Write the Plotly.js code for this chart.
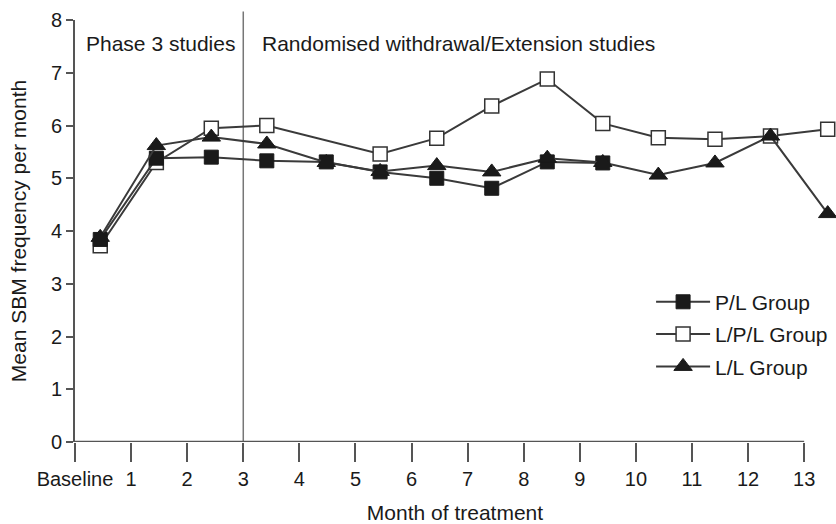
<!DOCTYPE html>
<html>
<head>
<meta charset="utf-8">
<script src="https://cdn.plot.ly/plotly-3.0.1.min.js"></script>
<style>html,body{margin:0;padding:0;background:#fff;}#chart{width:836px;height:524px;}</style>
</head>
<body>
<div id="chart"></div>
<script>
// Tick labels and positions (months)
const tickVals = [0,1,2,3,4,5,6,7,8,9,10,11,12,13];
const tickText = ["Baseline","1","2","3","4","5","6","7","8","9","10","11","12","13"];

// P/L Group
const plX = [0.45, 1.45, 2.43, 3.42, 4.48, 5.44, 6.45, 7.43, 8.42, 9.41];
const plY = [3.84, 5.38, 5.40, 5.33, 5.31, 5.12, 5.00, 4.81, 5.31, 5.29];

// L/P/L Group
const lplX = [0.45, 1.45, 2.43, 3.42, 5.44, 6.45, 7.43, 8.42, 9.41, 10.40, 11.41, 12.40, 13.42];
const lplY = [3.72, 5.30, 5.95, 6.00, 5.46, 5.76, 6.37, 6.88, 6.04, 5.77, 5.74, 5.80, 5.93];

// L/L Group
const llX = [0.45, 1.45, 2.43, 3.42, 4.48, 5.44, 6.45, 7.43, 8.42, 9.41, 10.40, 11.41, 12.40, 13.42];
const llY = [3.88, 5.62, 5.78, 5.65, 5.30, 5.13, 5.24, 5.12, 5.38, 5.30, 5.06, 5.29, 5.80, 4.33];

const lineCol = "#3a3a3a";
const axisCol = "#555555";
const textCol = "#1a1a1a";
const fontFam = "Liberation Sans, Arial, sans-serif";

const traces = [
  {
    x: lplX, y: lplY, name: "L/P/L Group", type: "scatter", mode: "lines+markers",
    legendrank: 2, legendgroup: "b",
    line: {color: lineCol, width: 2},
    marker: {symbol: "square", size: 14, color: "#ffffff", line: {color: "#333333", width: 1.5}},
    cliponaxis: false
  },
  {
    x: plX, y: plY, name: "P/L Group", type: "scatter", mode: "lines+markers",
    legendrank: 1, legendgroup: "a",
    line: {color: lineCol, width: 2},
    marker: {symbol: "square", size: 14, color: "#1a1a1a", line: {color: "#1a1a1a", width: 1}},
    cliponaxis: false
  },
  {
    x: llX, y: llY, name: "L/L Group", type: "scatter", mode: "lines+markers",
    legendrank: 3, legendgroup: "c",
    line: {color: lineCol, width: 2},
    marker: {symbol: "triangle-up", size: 16, color: "#1a1a1a", line: {color: "#1a1a1a", width: 1}},
    cliponaxis: false
  }
];

const layout = {
  width: 836, height: 524,
  margin: {l: 75, r: 1, t: 20, b: 82},
  paper_bgcolor: "#ffffff", plot_bgcolor: "#ffffff",
  font: {family: fontFam, size: 21, color: textCol},
  showlegend: true,
  legend: {
    x: 0.758, y: 0.38, xanchor: "left", yanchor: "top",
    bgcolor: "rgba(0,0,0,0)", font: {size: 21, family: fontFam, color: textCol},
    tracegroupgap: 2, itemwidth: 54
  },
  xaxis: {
    range: [0, 13.55], tickvals: tickVals, ticktext: tickText,
    showgrid: false, zeroline: false, showline: false,
    ticks: "outside", ticklen: 19, tickwidth: 2, tickcolor: axisCol,
    tickfont: {size: 20, family: fontFam, color: textCol},
    title: {text: "Month of treatment", font: {size: 21, family: fontFam, color: textCol}, standoff: 16}
  },
  yaxis: {
    range: [0, 8], tickvals: [0,1,2,3,4,5,6,7,8],
    showgrid: false, zeroline: false, showline: true, linecolor: axisCol, linewidth: 2,
    ticks: "outside", ticklen: 7, tickwidth: 2, tickcolor: axisCol,
    tickfont: {size: 20, family: fontFam, color: textCol},
    title: {text: "Mean SBM frequency per month", font: {size: 21, family: fontFam, color: textCol}, standoff: 19}
  },
  shapes: [
    {type: "line", xref: "x", yref: "y", x0: 0, x1: 13, y0: 0, y1: 0, line: {color: axisCol, width: 2.5}},
    {type: "line", xref: "x", yref: "paper", x0: 3, x1: 3, y0: 0, y1: 1.02, line: {color: "#777777", width: 1.5}, layer: "below"}
  ],
  annotations: [
    {text: "Phase 3 studies", xref: "paper", yref: "paper", x: 0.012, y: 0.945, xanchor: "left", yanchor: "middle", showarrow: false, font: {size: 21, family: fontFam, color: textCol}},
    {text: "Randomised withdrawal/Extension studies", xref: "paper", yref: "paper", x: 0.243, y: 0.945, xanchor: "left", yanchor: "middle", showarrow: false, font: {size: 21, family: fontFam, color: textCol}}
  ]
};

Plotly.newPlot("chart", traces, layout, {displayModeBar: false, staticPlot: true});
</script>
</body>
</html>
